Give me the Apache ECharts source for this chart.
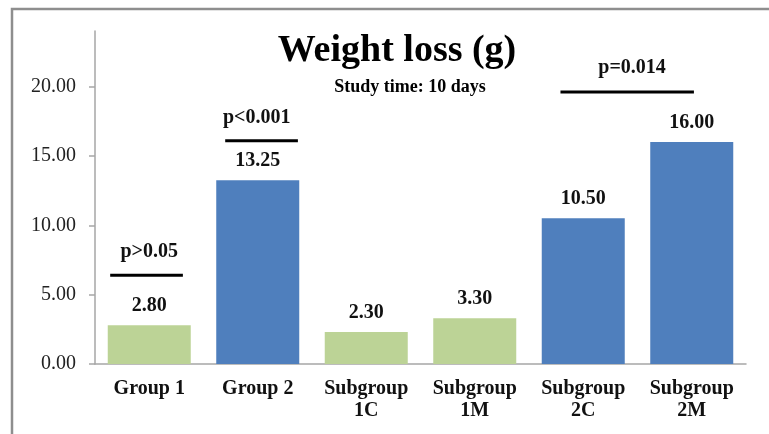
<!DOCTYPE html>
<html>
<head>
<meta charset="utf-8">
<script src="https://cdn.jsdelivr.net/npm/echarts@6/dist/echarts.min.js"></script>
<style>
html,body{margin:0;padding:0;background:#fff;}
#chart{width:769px;height:434px;}
</style>
</head>
<body>
<div id="chart"></div>
<script>
// ---- data ----
const categories = ['Group 1', 'Group 2', 'Subgroup\n1C', 'Subgroup\n1M', 'Subgroup\n2C', 'Subgroup\n2M'];
const weightLoss = [2.80, 13.25, 2.30, 3.30, 10.50, 16.00];
const groupFamily = [1, 2, 1, 1, 2, 2];
const yTicks = [0, 5, 10, 15, 20];
// significance annotations: text, bracket start/end (category index units), bracket value, text value
const pTexts = ['p>0.05', 'p<0.001', 'p=0.014'];
const pFrom = [-0.36, 0.70, 3.79];
const pTo = [0.31, 1.37, 5.02];
const pLineY = [6.39, 16.09, 19.61];
const pTextX = [0.0, 0.99, 4.45];
const pTextY = [8.05, 17.74, 21.34];

const titleText = 'Weight loss (g)';
const subtitleText = 'Study time: 10 days';

const colorByFamily = {1: '#bcd396', 2: '#4f7fbd'};
const serif = '"Liberation Serif", "DejaVu Serif", serif';

const chart = echarts.init(document.getElementById('chart'));
const annData = pTexts.map((t, i) => [pFrom[i], pTo[i], pLineY[i], pTextX[i], pTextY[i], t]);

chart.setOption({
  animation: false,
  backgroundColor: '#fff',
  title: [
    {text: titleText, left: 392, top: 46, textAlign: 'center', textVerticalAlign: 'middle',
     textStyle: {fontFamily: serif, fontWeight: 'bold', fontSize: 38, color: '#000'}},
    {text: subtitleText, left: 405, top: 82, textAlign: 'center', textVerticalAlign: 'middle',
     textStyle: {fontFamily: serif, fontWeight: 'bold', fontSize: 18, color: '#000'}}
  ],
  graphic: [{
    type: 'rect', shape: {x: 12, y: 9, width: 900, height: 600},
    style: {fill: 'none', stroke: '#8e8e8e', lineWidth: 2.5}, silent: true, z: 100
  }],
  grid: {left: 95, right: 23, top: 31, bottom: 70},
  xAxis: [{
    type: 'category', data: categories,
    axisLine: {lineStyle: {color: '#a6a6a6', width: 1.5}},
    axisTick: {length: 5, lineStyle: {color: '#a6a6a6', width: 1.5}},
    axisLabel: {interval: 0, margin: 14, fontFamily: serif, fontWeight: 'bold', fontSize: 20,
                lineHeight: 22, color: '#111'}
  }, {
    type: 'value', min: -0.5, max: 5.5, show: false
  }],
  yAxis: {
    type: 'value', min: 0, max: 24, interval: 5,
    splitLine: {show: false},
    axisLine: {show: true, onZero: false, lineStyle: {color: '#a6a6a6', width: 1.5}},
    axisTick: {show: true, inside: false, length: 6, customValues: yTicks,
               lineStyle: {color: '#a6a6a6', width: 1.5}},
    axisLabel: {margin: 19, customValues: yTicks, fontFamily: serif, fontSize: 20, color: '#222',
                formatter: v => (v % 5 === 0 ? v.toFixed(2) : '')}
  },
  series: [{
    type: 'bar',
    data: weightLoss,
    barCategoryGap: '23.5%',
    itemStyle: {color: p => colorByFamily[groupFamily[p.dataIndex]]},
    label: {show: true, position: 'top', distance: 9, fontFamily: serif, fontWeight: 'bold',
            fontSize: 20, color: '#111', formatter: p => p.value.toFixed(2)}
  }, {
    type: 'custom',
    xAxisIndex: 1,
    data: annData,
    silent: true,
    z: 10,
    renderItem: (params, api) => {
      const a = api.coord([api.value(0), api.value(2)]);
      const b = api.coord([api.value(1), api.value(2)]);
      const t = api.coord([api.value(3), api.value(4)]);
      return {
        type: 'group',
        children: [{
          type: 'line', shape: {x1: a[0], y1: a[1], x2: b[0], y2: b[1]},
          style: {stroke: '#000', lineWidth: 3}
        }, {
          type: 'text',
          style: {text: annData[params.dataIndex][5], x: t[0], y: t[1], textAlign: 'center',
                  textVerticalAlign: 'middle', fontFamily: serif, fontWeight: 'bold',
                  fontSize: 20, fill: '#111'}
        }]
      };
    }
  }]
});
</script>
</body>
</html>
